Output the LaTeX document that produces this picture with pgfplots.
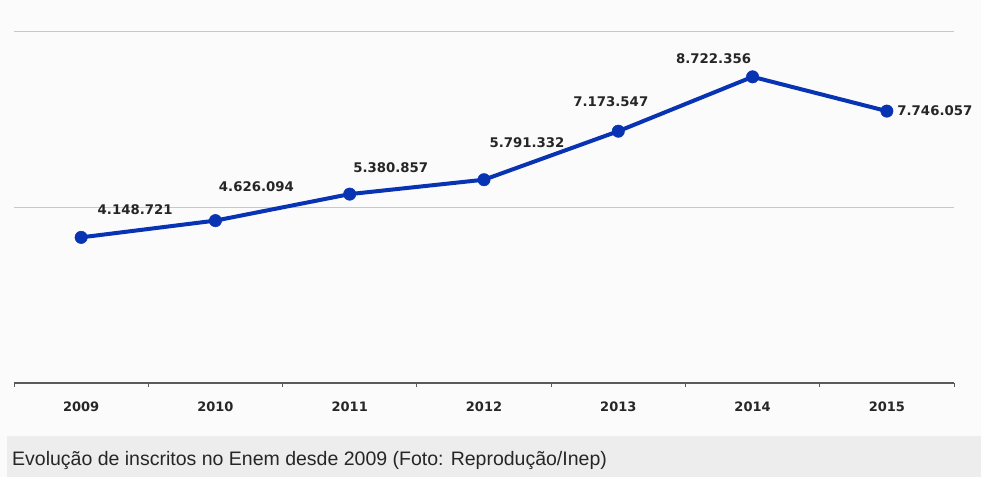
\documentclass[border=0pt]{standalone}
\usepackage{pgfplots}
\pgfplotsset{compat=1.18}
\usepackage{fontspec}
\setmainfont{DejaVu Sans}
\newfontfamily\capfont{Liberation Sans}
\definecolor{lineblue}{RGB}{8,52,180}
\definecolor{gridgray}{RGB}{200,200,200}
\definecolor{axisgray}{RGB}{90,90,90}
\definecolor{capgray}{RGB}{237,237,237}
\definecolor{bggray}{RGB}{251,251,251}
\begin{document}
\begin{tikzpicture}[x=1bp,y=1bp]
\fill[bggray] (0,0) rectangle (981,477);
\fill[capgray] (7,0) rectangle (981,41);
\node[anchor=base west,inner sep=0pt,font=\capfont\fontsize{19.5bp}{22bp}\selectfont,text=black!85] at (12,11) {Evolução de inscritos no Enem desde 2009 (Foto: Reprodução/Inep)};
\begin{axis}[
  at={(14bp,94bp)}, anchor=south west,
  scale only axis, width=940bp, height=351bp,
  xmin=-0.5, xmax=6.5, ymin=0, ymax=10000000,
  axis x line*=bottom, axis y line*=left,
  x axis line style={axisgray, line width=1.2bp, -},
  y axis line style={draw=none},
  ytick style={draw=none},
  scaled y ticks=false,
  xtick={0,1,2,3,4,5,6},
  xticklabels={2009,2010,2011,2012,2013,2014,2015},
  extra x ticks={-0.5,0.5,1.5,2.5,3.5,4.5,5.5,6.5},
  extra x tick labels={},
  extra x tick style={major tick length=4bp, tick style={axisgray, line width=1bp}, tick align=outside},
  major tick length=0pt,
  xticklabel style={font=\bfseries\fontsize{13bp}{15bp}\selectfont, text=black!85, yshift=-15bp},
  ytick={5000000,10000000}, yticklabels={},
  ymajorgrids, grid style={gridgray, line width=1bp},
  clip=false,
]
\addplot[lineblue, line width=4bp, mark=*, mark size=6.2bp, mark options={fill=lineblue, draw=lineblue, line width=0.5bp}]
  coordinates {(0,4148721) (1,4626094) (2,5380857) (3,5791332) (4,7173547) (5,8722356) (6,7746057)};
\begin{scope}[every node/.style={font=\bfseries\fontsize{13.3bp}{15bp}\selectfont, text=black!85, inner sep=0pt}]
\node[xshift=54bp, yshift=28bp] at (axis cs:0,4148721) {4.148.721};
\node[xshift=41bp, yshift=34bp] at (axis cs:1,4626094) {4.626.094};
\node[xshift=41bp, yshift=26bp] at (axis cs:2,5380857) {5.380.857};
\node[xshift=43bp, yshift=37bp] at (axis cs:3,5791332) {5.791.332};
\node[xshift=-7.5bp, yshift=29.5bp] at (axis cs:4,7173547) {7.173.547};
\node[xshift=-39bp, yshift=18bp] at (axis cs:5,8722356) {8.722.356};
\node[xshift=48bp, yshift=0bp] at (axis cs:6,7746057) {7.746.057};
\end{scope}
\end{axis}
\end{tikzpicture}
\end{document}
